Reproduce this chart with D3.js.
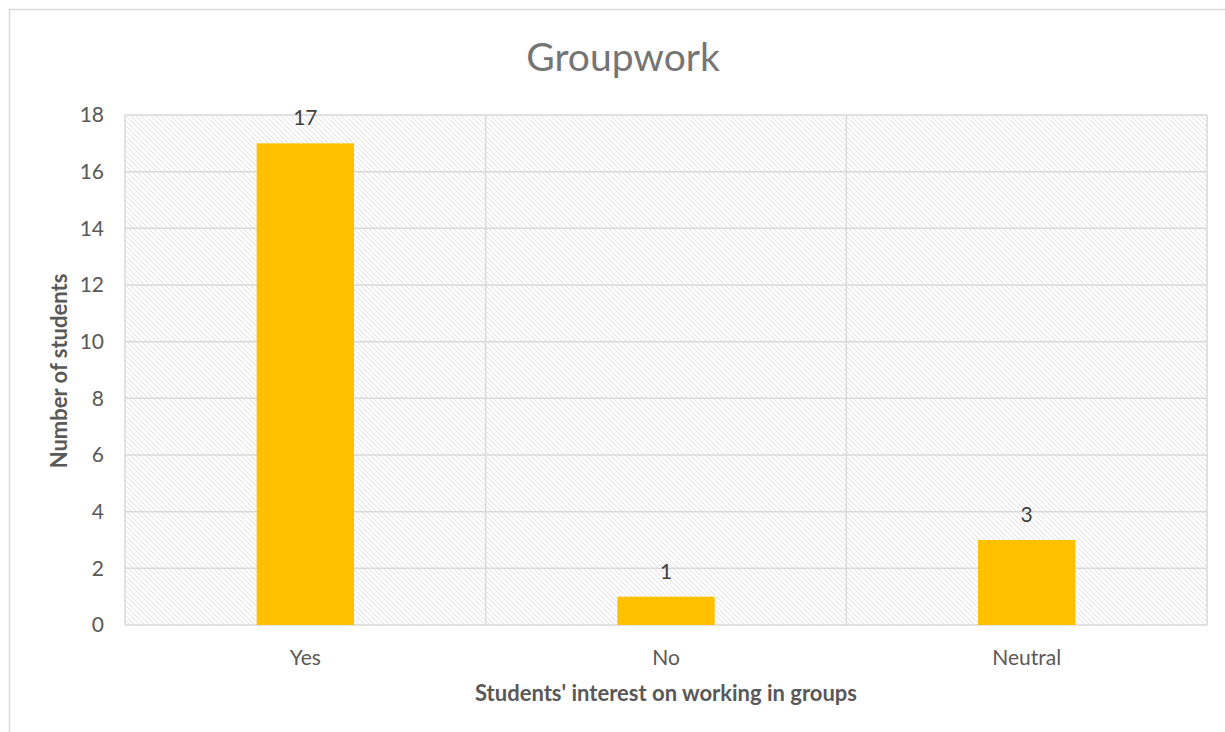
<!DOCTYPE html>
<html>
<head>
<meta charset="utf-8">
<script src="https://cdn.jsdelivr.net/npm/d3@7"></script>
<style>
  html, body { margin: 0; padding: 0; background: #fff; }
  svg { display: block; }
  text { font-family: Lato, "Open Sans", "Liberation Sans", sans-serif; }
</style>
</head>
<body>
<svg id="chart" width="1225" height="732"></svg>
<script>
// Survey responses: interest in working in groups
const categories = ["Yes", "No", "Neutral"];
const studentCounts = [17, 1, 3];
const yTicks = [0, 2, 4, 6, 8, 10, 12, 14, 16, 18];

const chartTitle = "Groupwork";
const xTitle = "Students' interest on working in groups";
const yTitle = "Number of students";

const svg = d3.select("#chart");
const W = 1225, H = 732;
const plot = { left: 125, top: 115, right: 1207, bottom: 625 };

// Outer chart frame
svg.append("rect")
  .attr("x", 9.5).attr("y", 9.5)
  .attr("width", W + 20).attr("height", H + 20)
  .attr("fill", "#fff").attr("stroke", "#d9d9d9").attr("stroke-width", 1.5);

// Diagonal hatch fill for the plot area
const defs = svg.append("defs");
const pat = defs.append("pattern")
  .attr("id", "hatch")
  .attr("patternUnits", "userSpaceOnUse")
  .attr("width", 5).attr("height", 5);
pat.append("rect").attr("width", 5).attr("height", 5).attr("fill", "#fff");
pat.append("path")
  .attr("d", "M-1,-1 L6,6 M-1,4 L1,6 M4,-1 L6,1")
  .attr("stroke", "#e0e0e0").attr("stroke-width", 1);

const x = d3.scaleBand()
  .domain(categories)
  .range([plot.left, plot.right])
  .paddingInner(0).paddingOuter(0);

const y = d3.scaleLinear()
  .domain([0, 18])
  .range([plot.bottom, plot.top]);

svg.append("rect")
  .attr("x", plot.left).attr("y", plot.top)
  .attr("width", plot.right - plot.left)
  .attr("height", plot.bottom - plot.top)
  .attr("fill", "url(#hatch)");

// Horizontal gridlines
svg.append("g")
  .selectAll("line")
  .data(yTicks)
  .join("line")
  .attr("x1", plot.left).attr("x2", plot.right)
  .attr("y1", d => y(d)).attr("y2", d => y(d))
  .attr("stroke", "#d9d9d9").attr("stroke-width", 1.5);

// Vertical category dividers
const dividers = [plot.left, ...categories.map(c => x(c) + x.bandwidth())];
svg.append("g")
  .selectAll("line")
  .data(dividers)
  .join("line")
  .attr("x1", d => d).attr("x2", d => d)
  .attr("y1", plot.top).attr("y2", plot.bottom)
  .attr("stroke", "#d9d9d9").attr("stroke-width", 1.5);

// Bars
const barW = x.bandwidth() * 0.27;
svg.append("g")
  .selectAll("rect")
  .data(categories)
  .join("rect")
  .attr("x", (c) => x(c) + x.bandwidth() / 2 - barW / 2)
  .attr("y", (c, i) => y(studentCounts[i]))
  .attr("width", barW)
  .attr("height", (c, i) => y(0) - y(studentCounts[i]))
  .attr("fill", "#ffc000");

// Value labels
svg.append("g")
  .selectAll("text")
  .data(categories)
  .join("text")
  .attr("x", c => x(c) + x.bandwidth() / 2)
  .attr("y", (c, i) => y(studentCounts[i]) - 18)
  .attr("text-anchor", "middle")
  .attr("font-size", 21)
  .attr("fill", "#404040")
  .text((c, i) => studentCounts[i]);

// Y axis tick labels
const yAxis = d3.axisLeft(y).tickValues(yTicks).tickSize(0).tickPadding(21);
const gy = svg.append("g").attr("transform", `translate(${plot.left},0)`).call(yAxis);
gy.select(".domain").remove();
gy.selectAll("text")
  .attr("font-size", 21)
  .attr("fill", "#595959")
  .attr("font-family", 'Lato, "Open Sans", sans-serif');

// X axis category labels
const xAxis = d3.axisBottom(x).tickSize(0).tickPadding(25);
const gx = svg.append("g").attr("transform", `translate(0,${plot.bottom})`).call(xAxis);
gx.select(".domain").remove();
gx.selectAll("text")
  .attr("font-size", 21)
  .attr("fill", "#595959")
  .attr("font-family", 'Lato, "Open Sans", sans-serif');

// Titles
svg.append("text")
  .attr("x", (plot.left + plot.right) / 2 - 43)
  .attr("y", 71)
  .attr("text-anchor", "middle")
  .attr("font-size", 39)
  .attr("fill", "#757575")
  .text(chartTitle);

svg.append("text")
  .attr("x", (plot.left + plot.right) / 2)
  .attr("y", 701)
  .attr("text-anchor", "middle")
  .attr("font-size", 22)
  .attr("font-weight", "bold")
  .attr("fill", "#595959")
  .text(xTitle);

svg.append("text")
  .attr("transform", `translate(67,${(plot.top + plot.bottom) / 2 + 1}) rotate(-90)`)
  .attr("text-anchor", "middle")
  .attr("font-size", 22)
  .attr("font-weight", "bold")
  .attr("fill", "#595959")
  .text(yTitle);
</script>
</body>
</html>
